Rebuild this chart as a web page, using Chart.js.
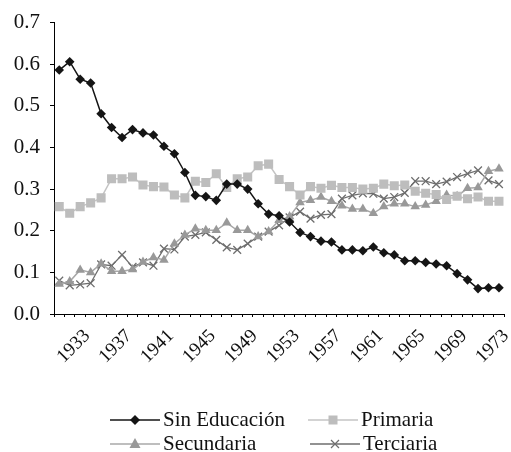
<!DOCTYPE html>
<html>
<head>
<meta charset="utf-8">
<script src="https://cdn.jsdelivr.net/npm/chart.js@4/dist/chart.umd.min.js"></script>
<style>
    html, body { margin: 0; padding: 0; background: #fff; }
    #wrap { position: relative; width: 511px; height: 452px; overflow: hidden; }
    #legend { position: absolute; left: 0; top: 0; width: 511px; height: 452px; pointer-events: none;
        font-family: "Liberation Serif", "Times New Roman", serif; font-size: 21px; color: #111; }
    .li { position: absolute; display: flex; align-items: center; white-space: nowrap; line-height: 23px; height: 23px; }
    .li svg { margin-right: 3px; }
</style>
</head>
<body>
<div id="wrap">
    <canvas id="chart" width="511" height="452"></canvas>
    <div id="legend"></div>
</div>
<script>
// categories (one per year) and the years that get a label
const years = ['1931','1932','1933','1934','1935','1936','1937','1938','1939','1940',
    '1941','1942','1943','1944','1945','1946','1947','1948','1949','1950',
    '1951','1952','1953','1954','1955','1956','1957','1958','1959','1960',
    '1961','1962','1963','1964','1965','1966','1967','1968','1969','1970',
    '1971','1972','1973'];
const tickYears = ['1933','1937','1941','1945','1949','1953','1957','1961','1965','1969','1973'];

const sinEducacion = [0.586,0.606,0.564,0.555,0.481,0.448,0.424,0.443,0.435,0.430,
    0.403,0.385,0.340,0.285,0.282,0.273,0.312,0.312,0.300,0.265,
    0.240,0.236,0.221,0.196,0.186,0.175,0.173,0.154,0.154,0.152,
    0.161,0.147,0.142,0.128,0.128,0.124,0.120,0.116,0.097,0.082,
    0.061,0.063,0.063];
const primaria = [0.258,0.242,0.258,0.267,0.279,0.325,0.325,0.329,0.310,0.306,
    0.305,0.286,0.279,0.319,0.316,0.337,0.304,0.325,0.329,0.356,
    0.360,0.323,0.306,0.286,0.306,0.302,0.309,0.304,0.304,0.300,
    0.302,0.312,0.308,0.310,0.295,0.290,0.287,0.275,0.283,0.277,
    0.281,0.271,0.271];
const secundaria = [0.072,0.078,0.106,0.100,0.121,0.103,0.103,0.107,0.125,0.136,
    0.130,0.169,0.190,0.205,0.201,0.201,0.219,0.201,0.201,0.186,
    0.198,0.225,0.234,0.268,0.273,0.281,0.271,0.260,0.252,0.252,
    0.242,0.258,0.265,0.265,0.258,0.262,0.271,0.286,0.283,0.302,
    0.304,0.343,0.349];
const terciaria = [0.080,0.069,0.071,0.074,0.119,0.116,0.142,0.113,0.124,0.116,
    0.157,0.155,0.186,0.190,0.196,0.178,0.160,0.154,0.169,0.186,
    0.198,0.213,0.232,0.246,0.229,0.238,0.240,0.277,0.285,0.290,
    0.289,0.277,0.281,0.291,0.319,0.319,0.312,0.318,0.329,0.337,
    0.345,0.321,0.312];

const serif = '"Liberation Serif", "Times New Roman", serif';

const series = [
    { label: 'Sin Educación', data: sinEducacion, line: '#151515', fill: '#151515', style: 'rectRot', r: 4.8, lw: 1.5 },
    { label: 'Primaria', data: primaria, line: '#c4c4c4', fill: '#bdbdbd', style: 'rect', r: 6.4, lw: 1.5 },
    { label: 'Secundaria', data: secundaria, line: '#a8a8a8', fill: '#999999', style: 'triangle', r: 5.5, lw: 1.5 },
    { label: 'Terciaria', data: terciaria, line: '#6e6e6e', fill: '#6e6e6e', style: 'crossRot', r: 5.5, lw: 1.3 }
];

const chart = new Chart(document.getElementById('chart'), {
    type: 'line',
    data: {
        labels: years,
        datasets: series.map(s => ({
            label: s.label,
            data: s.data,
            borderColor: s.line,
            borderWidth: s.lw,
            backgroundColor: s.fill,
            pointStyle: s.style,
            pointRadius: s.r,
            pointBorderColor: s.fill,
            pointBackgroundColor: s.fill,
            pointBorderWidth: s.style === 'crossRot' ? 1.3 : 0,
            tension: 0,
            fill: false
        }))
    },
    options: {
        responsive: false,
        animation: false,
        layout: { padding: { left: 0, right: -4, top: 4, bottom: 76 } },
        plugins: { legend: { display: false }, tooltip: { enabled: false } },
        scales: {
            x: {
                offset: true,
                // no extra side padding for the rotated end labels
                afterFit: (scale) => { scale.paddingLeft = 0; scale.paddingRight = 0; },
                grid: { offset: true, drawOnChartArea: false, drawTicks: true, tickLength: 3, color: '#000' },
                border: { color: '#000', width: 1 },
                ticks: {
                    autoSkip: false, maxRotation: 45, minRotation: 45, padding: 8, labelOffset: 7,
                    color: '#111', font: { family: serif, size: 19 },
                    callback: function (v) {
                        const l = this.getLabelForValue(v);
                        return tickYears.includes(l) ? l : '';
                    }
                }
            },
            y: {
                min: 0, max: 0.7,
                afterFit: (scale) => { scale.width = 54; },
                grid: { drawOnChartArea: false, drawTicks: true, tickLength: 4, color: '#000' },
                border: { color: '#000', width: 1 },
                ticks: {
                    stepSize: 0.1, padding: 10, color: '#111',
                    font: { family: serif, size: 21 },
                    callback: (v) => v.toFixed(1)
                }
            }
        }
    }
});

// HTML legend in a 2x2 grid like the original
function swatch(s) {
    const cx = 25, cy = 7;
    let mark = '';
    if (s.style === 'rectRot') {
        mark = `<polygon points="${cx},${cy - 5} ${cx + 5},${cy} ${cx},${cy + 5} ${cx - 5},${cy}" fill="${s.fill}"/>`;
    } else if (s.style === 'rect') {
        mark = `<rect x="${cx - 4.5}" y="${cy - 4.5}" width="9" height="9" fill="${s.fill}"/>`;
    } else if (s.style === 'triangle') {
        mark = `<polygon points="${cx},${cy - 6} ${cx + 5.5},${cy + 4} ${cx - 5.5},${cy + 4}" fill="${s.fill}"/>`;
    } else {
        mark = `<path d="M${cx - 4} ${cy - 4}L${cx + 4} ${cy + 4}M${cx + 4} ${cy - 4}L${cx - 4} ${cy + 4}" stroke="${s.fill}" stroke-width="1.2"/>`;
    }
    return `<svg width="50" height="14"><line x1="0" y1="${cy}" x2="50" y2="${cy}" stroke="${s.line}" stroke-width="1.5"/>${mark}</svg>`;
}
const legendPos = [[110, 408], [308, 408], [110, 432], [310, 432]];
document.getElementById('legend').innerHTML = series.map((s, i) =>
    `<div class="li" style="left:${legendPos[i][0]}px;top:${legendPos[i][1]}px">${swatch(s)}<span>${s.label}</span></div>`
).join('');
</script>
</body>
</html>
